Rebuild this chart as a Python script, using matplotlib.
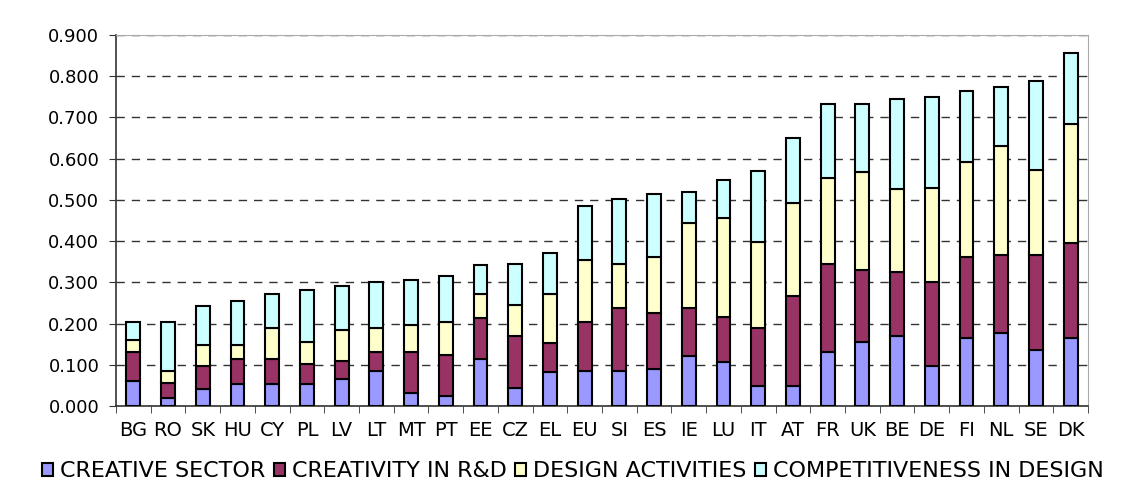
import numpy as np
import matplotlib.pyplot as plt

countries = ['BG', 'RO', 'SK', 'HU', 'CY', 'PL', 'LV', 'LT', 'MT', 'PT', 'EE', 'CZ', 'EL', 'EU',
             'SI', 'ES', 'IE', 'LU', 'IT', 'AT', 'FR', 'UK', 'BE', 'DE', 'FI', 'NL', 'SE', 'DK']

creative_sector = [0.061, 0.019, 0.041, 0.053, 0.053, 0.053, 0.066, 0.085, 0.032, 0.024, 0.114, 0.044,
                   0.082, 0.086, 0.086, 0.090, 0.122, 0.107, 0.049, 0.049, 0.131, 0.156, 0.169, 0.097,
                   0.164, 0.177, 0.136, 0.164]
creativity_rd = [0.070, 0.038, 0.056, 0.061, 0.061, 0.050, 0.044, 0.046, 0.099, 0.099, 0.099, 0.125,
                 0.070, 0.118, 0.152, 0.135, 0.116, 0.110, 0.140, 0.219, 0.214, 0.173, 0.155, 0.203,
                 0.198, 0.189, 0.230, 0.231]
design_activities = [0.030, 0.028, 0.051, 0.034, 0.075, 0.053, 0.075, 0.058, 0.066, 0.081, 0.058, 0.077,
                     0.119, 0.150, 0.107, 0.137, 0.206, 0.240, 0.210, 0.225, 0.207, 0.239, 0.203, 0.230,
                     0.231, 0.264, 0.207, 0.289]
competitiveness = [0.044, 0.120, 0.095, 0.107, 0.083, 0.125, 0.107, 0.111, 0.108, 0.112, 0.070, 0.099,
                   0.099, 0.132, 0.157, 0.153, 0.075, 0.091, 0.170, 0.158, 0.181, 0.165, 0.218, 0.220,
                   0.170, 0.145, 0.215, 0.173]

series = [('CREATIVE SECTOR', creative_sector, '#9999FF'),
          ('CREATIVITY IN R&D', creativity_rd, '#993366'),
          ('DESIGN ACTIVITIES', design_activities, '#FFFFCC'),
          ('COMPETITIVENESS IN DESIGN', competitiveness, '#CCFFFF')]

fig = plt.figure(figsize=(11.46, 5.04), dpi=100)
ax = fig.add_axes([0.1012, 0.1944, 0.8482, 0.7362])

x = np.arange(len(countries))
bottom = np.zeros(len(countries))
for name, vals, col in series:
    ax.bar(x, vals, 0.4, bottom=bottom, color=col, edgecolor='black', linewidth=1.5,
           label=name, zorder=3)
    bottom += np.array(vals)

ax.set_ylim(0, 0.9)
ax.set_xlim(-0.5, len(countries) - 0.5)
ax.set_yticks(np.arange(0, 0.91, 0.1))
ax.set_yticklabels(['%.3f' % v for v in np.arange(0, 0.91, 0.1)], fontsize=13)
ax.yaxis.grid(True, color='#333333', linestyle=(0, (6, 5)), linewidth=1.0, zorder=0)

ax.set_xticks(x)
ax.set_xticklabels(countries, fontsize=14)
ax.set_xticks(np.arange(-0.5, len(countries), 1), minor=True)
ax.tick_params(axis='x', which='major', length=0, pad=11)
ax.tick_params(axis='x', which='minor', length=5, direction='out', color='#333333')
ax.tick_params(axis='y', length=5, direction='out', color='#333333', pad=7)

for s in ['top', 'right']:
    ax.spines[s].set_color('#aaaaaa')
for s in ['left', 'bottom']:
    ax.spines[s].set_color('#333333')
    ax.spines[s].set_linewidth(1.2)

ax.legend(loc='upper center', bbox_to_anchor=(0.47, -0.125), ncol=4, frameon=False,
          fontsize=16, handlelength=0.5, handleheight=0.5, handletextpad=0.3,
          columnspacing=0.4, borderaxespad=0)

fig.savefig('out.png', dpi=100)
